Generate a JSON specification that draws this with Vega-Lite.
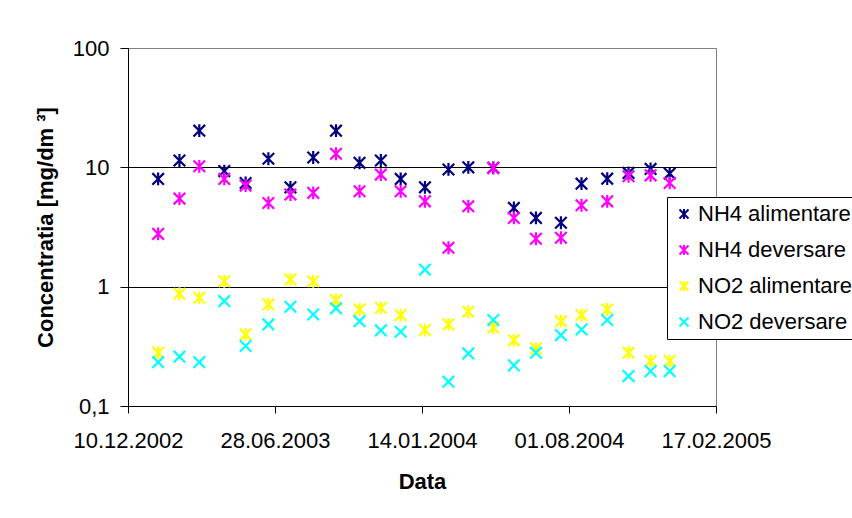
{
  "$schema": "https://vega.github.io/schema/vega-lite/v6.json",
  "width": 588,
  "height": 358,
  "autosize": {"type": "none"},
  "padding": {"left": 128, "top": 48, "right": 136, "bottom": 112},
  "background": "white",
  "config": {
    "font": "Liberation Sans",
    "view": {"stroke": "#808080", "strokeWidth": 1}
  },
  "datasets": {
    "pts": [
      {"d": "2003-01-20", "s": "NH4 alimentare", "v": 8.0},
      {"d": "2003-02-18", "s": "NH4 alimentare", "v": 11.4},
      {"d": "2003-03-17", "s": "NH4 alimentare", "v": 20.3},
      {"d": "2003-04-20", "s": "NH4 alimentare", "v": 9.3},
      {"d": "2003-05-19", "s": "NH4 alimentare", "v": 7.4},
      {"d": "2003-06-19", "s": "NH4 alimentare", "v": 11.8},
      {"d": "2003-07-19", "s": "NH4 alimentare", "v": 6.8},
      {"d": "2003-08-19", "s": "NH4 alimentare", "v": 12.1},
      {"d": "2003-09-19", "s": "NH4 alimentare", "v": 20.3},
      {"d": "2003-10-21", "s": "NH4 alimentare", "v": 10.9},
      {"d": "2003-11-19", "s": "NH4 alimentare", "v": 11.4},
      {"d": "2003-12-16", "s": "NH4 alimentare", "v": 8.0},
      {"d": "2004-01-18", "s": "NH4 alimentare", "v": 6.8},
      {"d": "2004-02-19", "s": "NH4 alimentare", "v": 9.6},
      {"d": "2004-03-17", "s": "NH4 alimentare", "v": 10.0},
      {"d": "2004-04-20", "s": "NH4 alimentare", "v": 9.9},
      {"d": "2004-05-18", "s": "NH4 alimentare", "v": 4.57},
      {"d": "2004-06-17", "s": "NH4 alimentare", "v": 3.77},
      {"d": "2004-07-21", "s": "NH4 alimentare", "v": 3.43},
      {"d": "2004-08-18", "s": "NH4 alimentare", "v": 7.3},
      {"d": "2004-09-22", "s": "NH4 alimentare", "v": 8.04},
      {"d": "2004-10-21", "s": "NH4 alimentare", "v": 8.98},
      {"d": "2004-11-20", "s": "NH4 alimentare", "v": 9.7},
      {"d": "2004-12-16", "s": "NH4 alimentare", "v": 8.86},
      {"d": "2003-01-20", "s": "NH4 deversare", "v": 2.77},
      {"d": "2003-02-18", "s": "NH4 deversare", "v": 5.47},
      {"d": "2003-03-17", "s": "NH4 deversare", "v": 10.2},
      {"d": "2003-04-20", "s": "NH4 deversare", "v": 8.0},
      {"d": "2003-05-19", "s": "NH4 deversare", "v": 7.03},
      {"d": "2003-06-19", "s": "NH4 deversare", "v": 5.03},
      {"d": "2003-07-19", "s": "NH4 deversare", "v": 5.92},
      {"d": "2003-08-19", "s": "NH4 deversare", "v": 6.11},
      {"d": "2003-09-19", "s": "NH4 deversare", "v": 13.0},
      {"d": "2003-10-21", "s": "NH4 deversare", "v": 6.3},
      {"d": "2003-11-19", "s": "NH4 deversare", "v": 8.69},
      {"d": "2003-12-16", "s": "NH4 deversare", "v": 6.3},
      {"d": "2004-01-18", "s": "NH4 deversare", "v": 5.19},
      {"d": "2004-02-19", "s": "NH4 deversare", "v": 2.12},
      {"d": "2004-03-17", "s": "NH4 deversare", "v": 4.72},
      {"d": "2004-04-20", "s": "NH4 deversare", "v": 9.9},
      {"d": "2004-05-18", "s": "NH4 deversare", "v": 3.77},
      {"d": "2004-06-17", "s": "NH4 deversare", "v": 2.52},
      {"d": "2004-07-21", "s": "NH4 deversare", "v": 2.57},
      {"d": "2004-08-18", "s": "NH4 deversare", "v": 4.81},
      {"d": "2004-09-22", "s": "NH4 deversare", "v": 5.19},
      {"d": "2004-10-21", "s": "NH4 deversare", "v": 8.41},
      {"d": "2004-11-20", "s": "NH4 deversare", "v": 8.57},
      {"d": "2004-12-16", "s": "NH4 deversare", "v": 7.4},
      {"d": "2003-01-20", "s": "NO2 alimentare", "v": 0.28},
      {"d": "2003-02-18", "s": "NO2 alimentare", "v": 0.873},
      {"d": "2003-03-17", "s": "NO2 alimentare", "v": 0.807},
      {"d": "2003-04-20", "s": "NO2 alimentare", "v": 1.11},
      {"d": "2003-05-19", "s": "NO2 alimentare", "v": 0.398},
      {"d": "2003-06-19", "s": "NO2 alimentare", "v": 0.71},
      {"d": "2003-07-19", "s": "NO2 alimentare", "v": 1.15},
      {"d": "2003-08-19", "s": "NO2 alimentare", "v": 1.11},
      {"d": "2003-09-19", "s": "NO2 alimentare", "v": 0.771},
      {"d": "2003-10-21", "s": "NO2 alimentare", "v": 0.644},
      {"d": "2003-11-19", "s": "NO2 alimentare", "v": 0.665},
      {"d": "2003-12-16", "s": "NO2 alimentare", "v": 0.578},
      {"d": "2004-01-18", "s": "NO2 alimentare", "v": 0.433},
      {"d": "2004-02-19", "s": "NO2 alimentare", "v": 0.483},
      {"d": "2004-03-17", "s": "NO2 alimentare", "v": 0.616},
      {"d": "2004-04-20", "s": "NO2 alimentare", "v": 0.453},
      {"d": "2004-05-18", "s": "NO2 alimentare", "v": 0.355},
      {"d": "2004-06-17", "s": "NO2 alimentare", "v": 0.304},
      {"d": "2004-07-21", "s": "NO2 alimentare", "v": 0.514},
      {"d": "2004-08-18", "s": "NO2 alimentare", "v": 0.578},
      {"d": "2004-09-22", "s": "NO2 alimentare", "v": 0.644},
      {"d": "2004-10-21", "s": "NO2 alimentare", "v": 0.28},
      {"d": "2004-11-20", "s": "NO2 alimentare", "v": 0.238},
      {"d": "2004-12-16", "s": "NO2 alimentare", "v": 0.238},
      {"d": "2003-01-20", "s": "NO2 deversare", "v": 0.233},
      {"d": "2003-02-18", "s": "NO2 deversare", "v": 0.259},
      {"d": "2003-03-17", "s": "NO2 deversare", "v": 0.233},
      {"d": "2003-04-20", "s": "NO2 deversare", "v": 0.757},
      {"d": "2003-05-19", "s": "NO2 deversare", "v": 0.318},
      {"d": "2003-06-19", "s": "NO2 deversare", "v": 0.483},
      {"d": "2003-07-19", "s": "NO2 deversare", "v": 0.679},
      {"d": "2003-08-19", "s": "NO2 deversare", "v": 0.585},
      {"d": "2003-09-19", "s": "NO2 deversare", "v": 0.658},
      {"d": "2003-10-21", "s": "NO2 deversare", "v": 0.514},
      {"d": "2003-11-19", "s": "NO2 deversare", "v": 0.43},
      {"d": "2003-12-16", "s": "NO2 deversare", "v": 0.419},
      {"d": "2004-01-18", "s": "NO2 deversare", "v": 1.39},
      {"d": "2004-02-19", "s": "NO2 deversare", "v": 0.16},
      {"d": "2004-03-17", "s": "NO2 deversare", "v": 0.276},
      {"d": "2004-04-20", "s": "NO2 deversare", "v": 0.525},
      {"d": "2004-05-18", "s": "NO2 deversare", "v": 0.219},
      {"d": "2004-06-17", "s": "NO2 deversare", "v": 0.28},
      {"d": "2004-07-21", "s": "NO2 deversare", "v": 0.393},
      {"d": "2004-08-18", "s": "NO2 deversare", "v": 0.438},
      {"d": "2004-09-22", "s": "NO2 deversare", "v": 0.525},
      {"d": "2004-10-21", "s": "NO2 deversare", "v": 0.178},
      {"d": "2004-11-20", "s": "NO2 deversare", "v": 0.196},
      {"d": "2004-12-16", "s": "NO2 deversare", "v": 0.196}
    ]
  },
  "data": {"name": "pts"},
  "mark": {"type": "point", "filled": false, "strokeWidth": 2.2, "opacity": 1, "size": 165},
  "encoding": {
    "x": {
      "field": "d",
      "type": "temporal",
      "scale": {
        "type": "utc",
        "domain": [
          {"year": 2002, "month": 12, "date": 10, "utc": true},
          {"year": 2005, "month": 2, "date": 17, "utc": true}
        ]
      },
      "axis": {
        "values": [
          {"year": 2002, "month": 12, "date": 10, "utc": true},
          {"year": 2003, "month": 6, "date": 28, "utc": true},
          {"year": 2004, "month": 1, "date": 14, "utc": true},
          {"year": 2004, "month": 8, "date": 1, "utc": true},
          {"year": 2005, "month": 2, "date": 17, "utc": true}
        ],
        "labelExpr": "utcFormat(datum.value, '%d.%m.%Y')",
        "grid": false,
        "labelFlush": false,
        "labelOverlap": false,
        "labelBound": false,
        "tickSize": 7,
        "tickColor": "black",
        "domainColor": "black",
        "labelColor": "black",
        "labelFont": "Liberation Sans",
        "labelFontSize": 22,
        "labelPadding": 17,
        "title": "Data",
        "titleFont": "Liberation Sans",
        "titleFontSize": 22,
        "titleFontWeight": "bold",
        "titleColor": "black",
        "titlePadding": 20
      }
    },
    "y": {
      "field": "v",
      "type": "quantitative",
      "scale": {"type": "log", "domain": [0.1, 100]},
      "axis": {
        "values": [0.1, 1, 10, 100],
        "format": "~g",
        "labelExpr": "replace(datum.label, '.', ',')",
        "grid": true,
        "gridColor": {"condition": {"test": "datum.value >= 100", "value": "#808080"}, "value": "black"},
        "gridWidth": 1,
        "tickSize": 8,
        "tickColor": "black",
        "domainColor": "black",
        "labelColor": "black",
        "labelFont": "Liberation Sans",
        "labelFontSize": 22,
        "labelPadding": 11,
        "title": "Concentratia [mg/dm ³]",
        "titleFont": "Liberation Sans",
        "titleFontSize": 22,
        "titleFontWeight": "bold",
        "titleColor": "black",
        "titlePadding": 15
      }
    },
    "color": {
      "field": "s",
      "type": "nominal",
      "scale": {
        "domain": ["NH4 alimentare", "NH4 deversare", "NO2 alimentare", "NO2 deversare"],
        "range": ["#000080", "#FF00FF", "#FFFF00", "#00FFFF"]
      },
      "legend": {
        "title": null,
        "orient": "none",
        "legendX": 539,
        "legendY": 149,
        "strokeColor": "black",
        "fillColor": "white",
        "padding": 6,
        "rowPadding": 14,
        "labelOffset": 3,
        "labelFont": "Liberation Sans",
        "labelFontSize": 22,
        "labelColor": "black",
        "labelLimit": 400,
        "symbolSize": 100,
        "symbolStrokeWidth": 2
      }
    },
    "shape": {
      "field": "s",
      "type": "nominal",
      "scale": {
        "domain": ["NH4 alimentare", "NH4 deversare", "NO2 alimentare", "NO2 deversare"],
        "range": [
          "M-0.9,-0.9L0.9,0.9M-0.9,0.9L0.9,-0.9M0,-1L0,1",
          "M-0.9,-0.9L0.9,0.9M-0.9,0.9L0.9,-0.9M0,-1L0,1",
          "M-0.9,-0.9L0.9,0.9M-0.9,0.9L0.9,-0.9M0,-1L0,1",
          "M-0.9,-0.9L0.9,0.9M-0.9,0.9L0.9,-0.9"
        ]
      }
    }
  }
}
